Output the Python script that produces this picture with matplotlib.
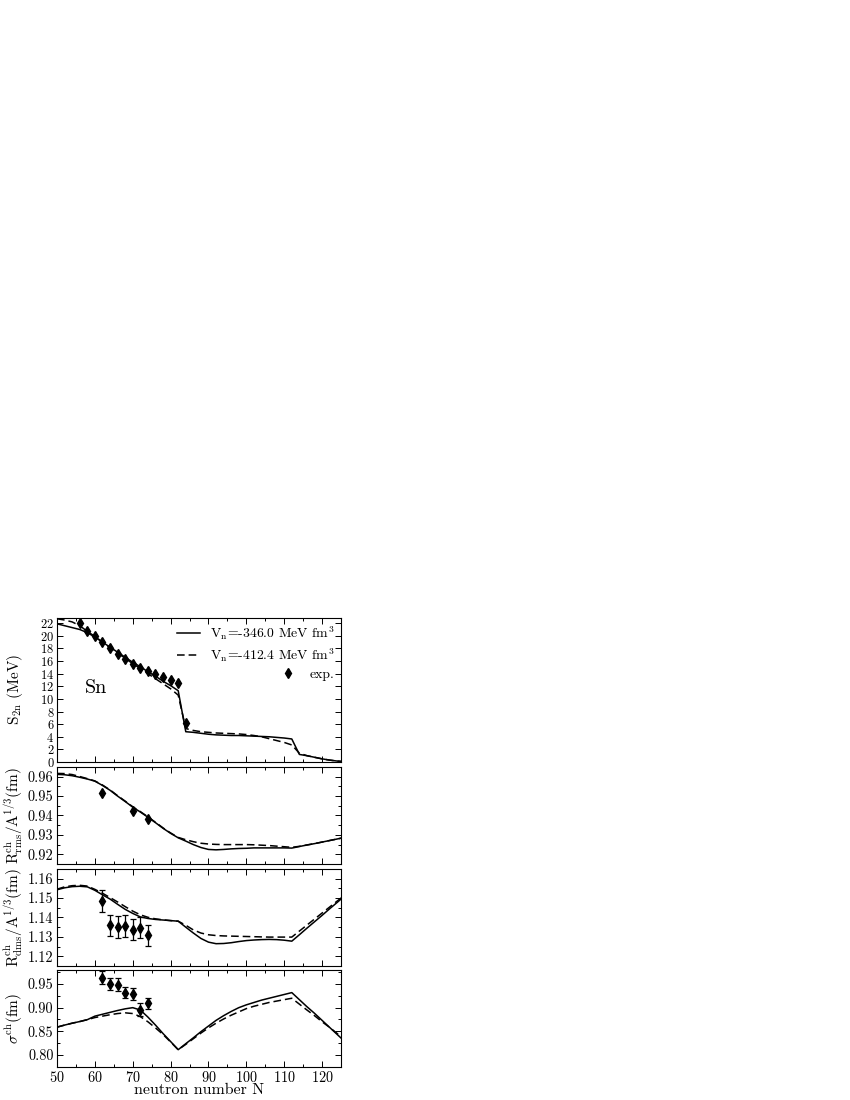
import numpy as np
import matplotlib
matplotlib.use("Agg")
import matplotlib.pyplot as plt
from matplotlib.ticker import MultipleLocator, FormatStrFormatter

plt.rcParams['font.family'] = ['cmr10', 'DejaVu Serif']
plt.rcParams['mathtext.fontset'] = 'cm'
plt.rcParams['axes.formatter.use_mathtext'] = True
FS_TICK = 10.3
FS_TICK1 = 9.0
FS_LAB = 11
FS_LEG = 9.9
plt.rcParams['font.size'] = FS_TICK

# ---------------- data ----------------
N = [50, 52, 54, 56, 58, 60, 62, 64, 66, 68, 70, 72, 74, 76, 78, 80, 82, 84, 86, 88,
     90, 92, 94, 96, 98, 100, 102, 104, 106, 108, 110, 112, 114, 116, 118, 120, 122, 124, 126]

s2n_v346 = [21.9, 21.6, 21.3, 21.0, 20.5, 19.8, 19.0, 18.2, 17.4, 16.6, 15.8, 15.1, 14.3, 13.6,
            12.8, 12.1, 11.3, 4.8, 4.7, 4.55, 4.4, 4.3, 4.25, 4.2, 4.2, 4.15, 4.1, 4.05, 4.0,
            3.9, 3.8, 3.65, 1.2, 1.0, 0.75, 0.5, 0.3, 0.15, 0.05]
s2n_v412 = [22.7, 22.5, 22.2, 21.6, 20.7, 19.9, 19.0, 18.1, 17.3, 16.4, 15.6, 14.8, 14.0, 13.2,
            12.4, 11.6, 10.6, 5.3, 5.0, 4.8, 4.7, 4.6, 4.55, 4.5, 4.45, 4.35, 4.2, 4.0, 3.7,
            3.4, 3.1, 2.7, 1.4, 1.0, 0.75, 0.5, 0.3, 0.15, 0.05]
N_s2n_exp = [56, 58, 60, 62, 64, 66, 68, 70, 72, 74, 76, 78, 80, 82, 84]
s2n_exp = [22.0, 20.7, 20.0, 19.0, 18.0, 17.1, 16.3, 15.6, 14.9, 14.4, 13.9, 13.5, 13.0, 12.5, 6.2]

rrms_v346 = [0.9612, 0.9610, 0.9605, 0.9597, 0.9588, 0.9577, 0.9555, 0.9530, 0.9500, 0.9472,
             0.9443, 0.9418, 0.9391, 0.9363, 0.9334, 0.9308, 0.9285, 0.9268, 0.9250, 0.9235,
             0.9225, 0.9223, 0.9225, 0.9228, 0.9230, 0.9231, 0.9233, 0.9233, 0.9233, 0.9233,
             0.9233, 0.9232, 0.9240, 0.9248, 0.9255, 0.9263, 0.9271, 0.9279, 0.9287]
rrms_v412 = [0.9617, 0.9616, 0.9611, 0.9601, 0.9590, 0.9578, 0.9557, 0.9532, 0.9502, 0.9474,
             0.9445, 0.9420, 0.9393, 0.9365, 0.9336, 0.9310, 0.9287, 0.9275, 0.9265, 0.9257,
             0.9253, 0.9251, 0.9250, 0.9250, 0.9250, 0.9250, 0.9249, 0.9247, 0.9245, 0.9242,
             0.9239, 0.9236, 0.9241, 0.9248, 0.9255, 0.9263, 0.9271, 0.9279, 0.9287]
N_rrms_exp = [62, 70, 74]
rrms_exp = [0.9515, 0.9421, 0.9383]

rdms_v346 = [1.1543, 1.1553, 1.1559, 1.1561, 1.1558, 1.1540, 1.1517, 1.1495, 1.1468, 1.1442,
             1.1421, 1.1403, 1.1395, 1.1390, 1.1387, 1.1384, 1.1381, 1.1350, 1.1320, 1.1292,
             1.1273, 1.1265, 1.1266, 1.1270, 1.1276, 1.1281, 1.1284, 1.1286, 1.1287, 1.1286,
             1.1283, 1.1278, 1.1311, 1.1345, 1.1378, 1.1411, 1.1445, 1.1478, 1.1512]
rdms_v412 = [1.1546, 1.1558, 1.1564, 1.1566, 1.1562, 1.1545, 1.1525, 1.1503, 1.1480, 1.1456,
             1.1433, 1.1414, 1.1401, 1.1393, 1.1388, 1.1384, 1.1381, 1.1360, 1.1336, 1.1320,
             1.1311, 1.1307, 1.1305, 1.1304, 1.1303, 1.1302, 1.1301, 1.1300, 1.1299, 1.1299,
             1.1299, 1.1299, 1.1330, 1.1361, 1.1392, 1.1423, 1.1454, 1.1485, 1.1516]
N_rdms_exp = [62, 64, 66, 68, 70, 72, 74]
rdms_exp = [1.1485, 1.1360, 1.1351, 1.1357, 1.1337, 1.1348, 1.1308]
rdms_err = [0.0055, 0.0055, 0.0055, 0.0055, 0.0055, 0.0055, 0.0055]

sig_v346 = [0.8586, 0.8630, 0.8670, 0.8705, 0.8745, 0.8820, 0.8860, 0.8900, 0.8940, 0.8975,
            0.9000, 0.8950, 0.8800, 0.8630, 0.8450, 0.8280, 0.8107, 0.8235, 0.8360, 0.8490,
            0.8610, 0.8730, 0.8830, 0.8920, 0.9000, 0.9060, 0.9110, 0.9160, 0.9200, 0.9240,
            0.9280, 0.9320, 0.9170, 0.9020, 0.8880, 0.8730, 0.8580, 0.8430, 0.8280]
sig_v412 = [0.8586, 0.8630, 0.8670, 0.8705, 0.8745, 0.8790, 0.8820, 0.8850, 0.8875, 0.8890,
            0.8875, 0.8810, 0.8700, 0.8570, 0.8430, 0.8270, 0.8107, 0.8220, 0.8340, 0.8460,
            0.8570, 0.8670, 0.8760, 0.8840, 0.8910, 0.8980, 0.9030, 0.9070, 0.9110, 0.9140,
            0.9170, 0.9200, 0.9075, 0.8950, 0.8830, 0.8700, 0.8580, 0.8450, 0.8330]
N_sig_exp = [62, 64, 66, 68, 70, 72, 74]
sig_exp = [0.964, 0.950, 0.949, 0.932, 0.929, 0.896, 0.909]
sig_err = [0.013, 0.013, 0.013, 0.012, 0.012, 0.013, 0.012]

label_a = r'V$_\mathrm{n}$=-346.0 MeV fm$^3$'
label_b = r'V$_\mathrm{n}$=-412.4 MeV fm$^3$'

# ---------------- figure ----------------
fig = plt.figure(figsize=(8.5, 11), dpi=100)
left, width = 0.0671, 0.3341
ax1 = fig.add_axes([left, 0.30727, width, 0.13136])
ax2 = fig.add_axes([left, 0.21455, width, 0.08818])
ax3 = fig.add_axes([left, 0.12182, width, 0.08818])
ax4 = fig.add_axes([left, 0.03045, width, 0.08773])
axes = [ax1, ax2, ax3, ax4]

lw = 1.1
dash = (0, (5, 2.6))
MS = 5.2
mk = dict(marker='d', color='black', markersize=MS, linestyle='none')

ax1.plot(N, s2n_v346, color='black', lw=lw, label=label_a)
ax1.plot(N, s2n_v412, color='black', lw=lw, linestyle=dash, label=label_b)
ax1.plot(N_s2n_exp, s2n_exp, label='exp.', **mk)

ax2.plot(N, rrms_v346, color='black', lw=lw)
ax2.plot(N, rrms_v412, color='black', lw=lw, linestyle=dash)
ax2.plot(N_rrms_exp, rrms_exp, **mk)

ax3.plot(N, rdms_v346, color='black', lw=lw)
ax3.plot(N, rdms_v412, color='black', lw=lw, linestyle=dash)
ax3.errorbar(N_rdms_exp, rdms_exp, yerr=rdms_err, fmt='d', color='black', ms=MS,
             elinewidth=0.9, capsize=2.5, capthick=0.9)

ax4.plot(N, sig_v346, color='black', lw=lw)
ax4.plot(N, sig_v412, color='black', lw=lw, linestyle=dash)
ax4.errorbar(N_sig_exp, sig_exp, yerr=sig_err, fmt='d', color='black', ms=MS,
             elinewidth=0.9, capsize=2.5, capthick=0.9)

# limits / ticks
ax1.set_ylim(0, 22.9)
ax1.yaxis.set_major_locator(MultipleLocator(2))
ax2.set_ylim(0.915, 0.965)
ax2.yaxis.set_major_locator(MultipleLocator(0.01))
ax2.yaxis.set_minor_locator(MultipleLocator(0.005))
ax2.yaxis.set_major_formatter(FormatStrFormatter('%.2f'))
ax3.set_ylim(1.115, 1.165)
ax3.yaxis.set_major_locator(MultipleLocator(0.01))
ax3.yaxis.set_minor_locator(MultipleLocator(0.005))
ax3.yaxis.set_major_formatter(FormatStrFormatter('%.2f'))
ax4.set_ylim(0.775, 0.98)
ax4.yaxis.set_major_locator(MultipleLocator(0.05))
ax4.yaxis.set_minor_locator(MultipleLocator(0.025))
ax4.yaxis.set_major_formatter(FormatStrFormatter('%.2f'))

for ax in axes:
    ax.set_xlim(50, 125)
    ax.xaxis.set_major_locator(MultipleLocator(10))
    ax.xaxis.set_minor_locator(MultipleLocator(5))
    ax.tick_params(which='both', direction='in', top=True, right=True, labelsize=FS_TICK, pad=2.5)
    ax.tick_params(which='major', length=4, width=0.7)
    ax.tick_params(which='minor', length=2.5, width=0.7)
    for s in ax.spines.values():
        s.set_linewidth(0.8)
    ax.yaxis.set_label_coords(-0.112, 0.5)
for ax in axes[:-1]:
    ax.tick_params(labelbottom=False)
ax1.tick_params(axis='y', labelsize=FS_TICK1, pad=2)

ax1.set_ylabel(r'S$_\mathrm{2n}$ (MeV)', fontsize=FS_LAB)
ax2.set_ylabel(r'R$^\mathrm{ch}_\mathrm{rms}$/A$^{1/3}$(fm)', fontsize=FS_LAB)
ax3.set_ylabel(r'R$^\mathrm{ch}_\mathrm{dms}$/A$^{1/3}$(fm)', fontsize=FS_LAB)
ax4.set_ylabel(r'$\sigma^\mathrm{ch}$(fm)', fontsize=FS_LAB)
ax4.set_xlabel('neutron number N', fontsize=FS_LAB + 0.5, labelpad=-1)

ax1.text(57.3, 11.7, 'Sn', fontsize=14.5, va='center', ha='left')

leg = ax1.legend(loc='upper right', frameon=False, fontsize=FS_LEG, handlelength=1.7,
                 handletextpad=0.7, labelspacing=0.3, borderaxespad=0.2, borderpad=0.3)
for col in leg._legend_handle_box.get_children():
    col.align = 'right'

fig.savefig('out.png', dpi=100)
